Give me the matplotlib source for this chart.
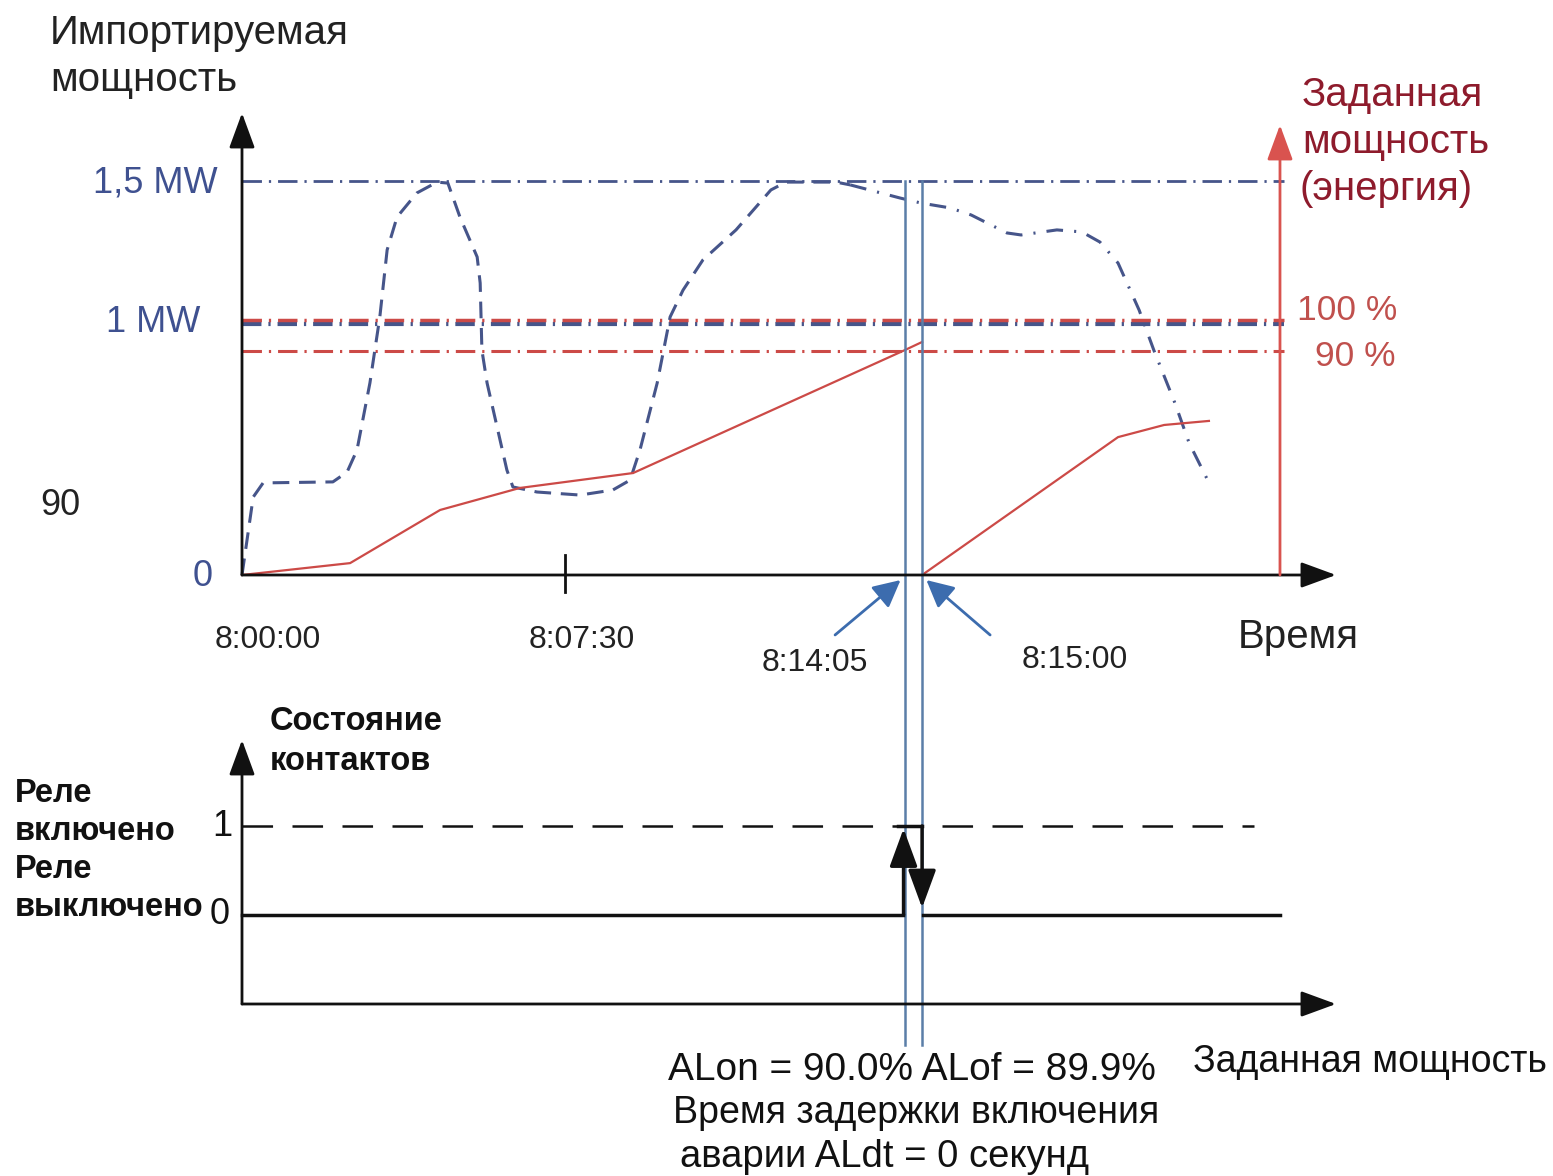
import numpy as np
import matplotlib
matplotlib.use("Agg")
from matplotlib import pyplot as plt

plt.rcParams['font.family'] = ['Liberation Sans', 'DejaVu Sans']
plt.rcParams['lines.scale_dashes'] = False

# ---- data (t in minutes after 8:00:00, P in MW) ----
imp_t = [0, 0.26, 0.49, 2.11, 2.44, 2.67, 2.97, 3.20, 3.37, 3.60, 4.06, 4.53, 4.78,
         5.06, 5.46, 5.53, 5.57, 5.69, 6.15, 6.29, 6.85, 7.85, 8.61, 9.01, 9.24,
         9.64, 9.94, 10.24, 10.70, 11.47, 12.28, 12.63, 13.79, 14.12]
imp_p = [0, 0.308, 0.364, 0.368, 0.407, 0.494, 0.759, 1.020, 1.285, 1.415, 1.510, 1.553, 1.549,
         1.415, 1.257, 1.154, 0.889, 0.759, 0.415, 0.348, 0.328, 0.316, 0.336, 0.375, 0.494,
         0.759, 1.020, 1.126, 1.245, 1.364, 1.522, 1.553, 1.553, 1.542]
imp2_t = [14.12, 15.28, 15.77, 16.44, 16.93, 17.76, 18.09, 18.92, 19.50, 19.92, 20.34,
          20.83, 21.17, 21.66, 21.99, 22.50]
imp2_p = [1.542, 1.490, 1.470, 1.451, 1.423, 1.352, 1.344, 1.364, 1.356, 1.316, 1.233,
          1.047, 0.889, 0.680, 0.522, 0.348]

set1_t = [0, 2.51, 4.60, 6.45, 9.08, 15.39, 15.79]
set1_p = [0, 0.047, 0.257, 0.344, 0.403, 0.889, 0.921]
set2_t = [15.79, 20.34, 21.41, 22.45]
set2_p = [0, 0.545, 0.593, 0.609]

p_max = 1.557      # "1,5 MW" line
p_nom = 1.0        # "1 MW" / 100 %
p_alarm = 0.885    # 90 %
t_on = 15.39       # 8:14:05
t_off = 15.79      # 8:15:00
t_tick = 7.5       # 8:07:30
t_axis_end = 25.4
t_lines_end = 24.2
t_red_axis = 24.1
t_state_end = 24.1
t_dash_end = 23.5

W, H = 1553, 1176
X0, Y0 = 242, 575         # origin of top panel (px)
PPM = 43.07               # px per minute
PPW = 253.0               # px per MW
Y0B, PPS = 915, 89.0      # bottom panel: state 0 row, px per state unit

blue = '#46558a'
blue_txt = '#3f5190'
vblue = '#5b7ea8'
red = '#cc4a47'
red_txt = '#8e1b2c'
red_pct = '#c0504d'

fig = plt.figure(figsize=(W / 100, H / 100), dpi=100)
ax = fig.add_axes([0, 0, 1, 1])
ax.set_xlim(-X0 / PPM, (W - X0) / PPM)
ax.set_ylim(-(H - Y0) / PPW, Y0 / PPW)
ax.axis('off')
axb = fig.add_axes([0, 0, 1, 1])
axb.set_xlim(-X0 / PPM, (W - X0) / PPM)
axb.set_ylim(-(H - Y0B) / PPS, Y0B / PPS)
axb.axis('off')
axb.patch.set_alpha(0)


def fx(x):
    return x / W


def fy(y):
    return 1 - y / H


dashdot = (0, (14, 5, 1.6, 5))

# reference lines
ax.plot([0, t_lines_end], [p_max, p_max], color=blue, lw=2, ls=dashdot)
ax.plot([0, t_lines_end], [p_nom - 0.006, p_nom - 0.006], color=blue, lw=3, ls=dashdot)
ax.plot([0, t_lines_end], [p_nom + 0.006, p_nom + 0.006], color=red, lw=2.5, ls=dashdot)
ax.plot([0, t_lines_end], [p_alarm, p_alarm], color=red, lw=2.2, ls=dashdot)

# import power
ax.plot(imp_t, imp_p, color=blue, lw=2.2, ls=(0, (12, 7)))
ax.plot(imp2_t, imp2_p, color=blue, lw=2.2, ls=(0, (12, 8, 1.5, 8)))

# setpoint energy
ax.plot(set1_t, set1_p, color=red, lw=1.6)
ax.plot(set2_t, set2_p, color=red, lw=1.6)

# event verticals
y_bot = -(1045 - Y0) / PPW
for t in (t_on, t_off):
    ax.plot([t, t], [p_max, y_bot], color=vblue, lw=1.8, clip_on=False)

# axes arrows (top)
ap = dict(arrowstyle='-|>,head_length=0.6,head_width=0.22', mutation_scale=36,
          lw=2, color='#111111', shrinkA=0, shrinkB=0)
ax.annotate('', xy=(t_axis_end, 0), xytext=(0, 0), arrowprops=ap)
ax.annotate('', xy=(0, (Y0 - 113) / PPW), xytext=(0, 0), arrowprops=ap)
apr = dict(ap, color='#d9534f')
ax.annotate('', xy=(t_red_axis, (Y0 - 125) / PPW), xytext=(t_red_axis, 0), arrowprops=apr)
ax.plot([t_tick, t_tick], [(Y0 - 555) / PPW, (Y0 - 592) / PPW], color='#111111', lw=2)

# blue pointer arrows
apb = dict(arrowstyle='-|>,head_length=0.75,head_width=0.38', mutation_scale=22,
           lw=2, color='#3c6cae', shrinkA=0, shrinkB=0)
ax.annotate('', xy=(t_on - 0.1, -0.02), xytext=(13.77, -0.237), arrowprops=apb)
ax.annotate('', xy=(t_off + 0.1, -0.02), xytext=(17.37, -0.237), arrowprops=apb)

# bottom panel: relay state
axb.annotate('', xy=(t_axis_end, -1.0), xytext=(0, -1.0),
             arrowprops=ap)
axb.annotate('', xy=(0, (Y0B - 740) / PPS), xytext=(0, -1.0), arrowprops=ap)
axb.plot([0, t_dash_end], [1, 1], color='#111111', lw=1.8, ls=(0, (22, 14)))
axb.plot([0, t_on - 0.05], [0, 0], color='#111111', lw=2.5)
axb.plot([t_off + 0.02, t_state_end], [0, 0], color='#111111', lw=2.5)
axb.plot([t_on - 0.15, t_off], [1, 1], color='#111111', lw=2.5)
aps = dict(arrowstyle='-|>,head_length=0.9,head_width=0.33', mutation_scale=26,
           lw=2.5, color='#111111', shrinkA=0, shrinkB=0)
axb.annotate('', xy=(t_on - 0.03, 0.97), xytext=(t_on - 0.03, 0), arrowprops=aps)
axb.annotate('', xy=(t_off, 0.08), xytext=(t_off, 1), arrowprops=aps)

# ---- texts ----
fig.text(fx(50), fy(33), 'Импортируемая', fontsize=29, va='center', color='#222222')
fig.text(fx(50), fy(80), 'мощность', fontsize=29, va='center', color='#222222')
fig.text(fx(218), fy(183), '1,5 MW', fontsize=26, ha='right', va='center', color=blue_txt)
fig.text(fx(200), fy(323), '1 MW', fontsize=26, ha='right', va='center', color=blue_txt)
fig.text(fx(203), fy(577), '0', fontsize=26, ha='center', va='center', color=blue_txt)
fig.text(fx(60), fy(505), '90', fontsize=26, ha='center', va='center', color='#222222')

fig.text(fx(1302), fy(95), 'Заданная', fontsize=29, va='center', color=red_txt)
fig.text(fx(1302), fy(142), 'мощность', fontsize=29, va='center', color=red_txt)
fig.text(fx(1300), fy(189), '(энергия)', fontsize=29, va='center', color=red_txt)
fig.text(fx(1297), fy(311), '100 %', fontsize=25.5, va='center', color=red_pct)
fig.text(fx(1315), fy(356), '90 %', fontsize=25.5, va='center', color=red_pct)

fig.text(fx(268), fy(640), '8:00:00', fontsize=23, ha='center', va='center', color='#222222')
fig.text(fx(582), fy(640), '8:07:30', fontsize=23, ha='center', va='center', color='#222222')
fig.text(fx(815), fy(663), '8:14:05', fontsize=23, ha='center', va='center', color='#222222')
fig.text(fx(1075), fy(660), '8:15:00', fontsize=23, ha='center', va='center', color='#222222')
fig.text(fx(1298), fy(637), 'Время', fontsize=29, ha='center', va='center', color='#222222')

bold = dict(fontsize=23.5, fontweight='bold', va='center', color='#111111')
fig.text(fx(270), fy(722), 'Состояние', **bold)
fig.text(fx(270), fy(762), 'контактов', **bold)
fig.text(fx(15), fy(793), 'Реле', **bold)
fig.text(fx(15), fy(831), 'включено', **bold)
fig.text(fx(15), fy(869), 'Реле', **bold)
fig.text(fx(15), fy(908), 'выключено', **bold)
fig.text(fx(222), fy(826), '1', fontsize=26, ha='center', va='center', color='#111111')
fig.text(fx(220), fy(915), '0', fontsize=26, ha='center', va='center', color='#111111')

fig.text(fx(912), fy(1070), 'ALon = 90.0% ALof = 89.9%', fontsize=28,
         ha='center', va='center', color='#111111')
fig.text(fx(916), fy(1113), 'Время задержки включения', fontsize=27,
         ha='center', va='center', color='#111111')
fig.text(fx(885), fy(1157), 'аварии ALdt = 0 секунд', fontsize=27.5,
         ha='center', va='center', color='#111111')
fig.text(fx(1370), fy(1062), 'Заданная мощность', fontsize=27,
         ha='center', va='center', color='#111111')

fig.savefig('out.png', dpi=100)
